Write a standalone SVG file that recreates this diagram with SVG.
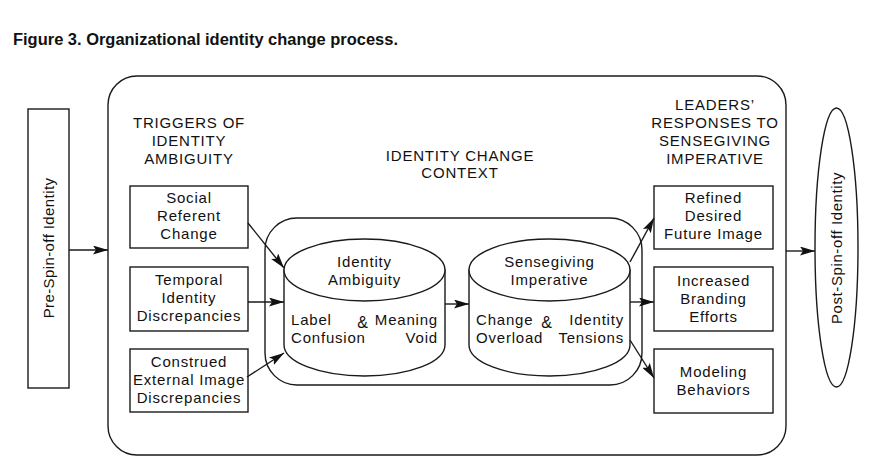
<svg xmlns="http://www.w3.org/2000/svg" width="877" height="471" viewBox="0 0 877 471">
<style>
.bx{fill:#fff;stroke:#1a1a1a;stroke-width:1.4}
.ln{fill:none;stroke:#1a1a1a;stroke-width:1.4}
.t{font-family:"Liberation Sans",Arial,sans-serif;font-size:15px;fill:#111;letter-spacing:0.8px}
.c{text-anchor:middle}
.e{text-anchor:end}
.ttl{font-family:"Liberation Sans",Arial,sans-serif;font-size:16px;font-weight:bold;fill:#111}
</style>
<defs>
<marker id="ah" markerUnits="userSpaceOnUse" markerWidth="15" markerHeight="9" refX="15" refY="4.5" orient="auto">
<path d="M0,0 L15,4.5 L0,9 L3,4.5 z" fill="#111"/>
</marker>
</defs>
<rect width="877" height="471" fill="#fff"/>
<text class="ttl" x="13" y="45" textLength="385" lengthAdjust="spacingAndGlyphs">Figure 3. Organizational identity change process.</text>

<g id="pre">
<rect class="bx" x="28" y="109" width="41" height="279"/>
<text class="t c" transform="translate(54,248) rotate(-90)" style="letter-spacing:0.4px">Pre-Spin-off Identity</text>
</g>

<g id="outer">
<rect class="ln" x="108" y="76" width="678" height="379" rx="29"/>
</g>

<g id="triggers-heading">
<text class="t c" x="189" y="128">TRIGGERS OF</text>
<text class="t c" x="189" y="146">IDENTITY</text>
<text class="t c" x="189" y="164">AMBIGUITY</text>
</g>

<g id="social">
<rect class="bx" x="130" y="186" width="118" height="62"/>
<text class="t c" x="189" y="203">Social</text>
<text class="t c" x="189" y="221">Referent</text>
<text class="t c" x="189" y="239">Change</text>
</g>
<g id="temporal">
<rect class="bx" x="130" y="267" width="118" height="64"/>
<text class="t c" x="189" y="285">Temporal</text>
<text class="t c" x="189" y="303">Identity</text>
<text class="t c" x="189" y="321">Discrepancies</text>
</g>
<g id="construed">
<rect class="bx" x="130" y="349" width="118" height="63"/>
<text class="t c" x="189" y="367">Construed</text>
<text class="t c" x="189" y="385">External Image</text>
<text class="t c" x="189" y="403">Discrepancies</text>
</g>

<g id="context-heading">
<text class="t c" x="460" y="161">IDENTITY CHANGE</text>
<text class="t c" x="460" y="178">CONTEXT</text>
</g>

<g id="context">
<rect class="ln" x="265" y="218" width="377" height="167" rx="32"/>
</g>

<g id="ambiguity">
<path class="bx" d="M284,270 V345 A80.5,31 0 0 0 445,345 V270 Z"/>
<ellipse class="bx" cx="364.5" cy="270" rx="80.5" ry="31"/>
<text class="t c" x="364.5" y="267">Identity</text>
<text class="t c" x="364.5" y="285">Ambiguity</text>
<text class="t" x="291" y="325">Label</text>
<text class="t" x="291" y="343">Confusion</text>
<text class="t c" x="363" y="328" style="font-size:16px">&amp;</text>
<text class="t e" x="438" y="325">Meaning</text>
<text class="t e" x="438" y="343">Void</text>
</g>

<g id="sensegiving">
<path class="bx" d="M469,270 V345 A80.5,31 0 0 0 630,345 V270 Z"/>
<ellipse class="bx" cx="549.5" cy="270" rx="80.5" ry="31"/>
<text class="t c" x="549.5" y="267">Sensegiving</text>
<text class="t c" x="549.5" y="285">Imperative</text>
<text class="t" x="476" y="325">Change</text>
<text class="t" x="476" y="343">Overload</text>
<text class="t c" x="547" y="328" style="font-size:16px">&amp;</text>
<text class="t e" x="624" y="325">Identity</text>
<text class="t e" x="624" y="343">Tensions</text>
</g>

<g id="leaders-heading">
<text class="t c" x="715" y="110">LEADERS’</text>
<text class="t c" x="715" y="128">RESPONSES TO</text>
<text class="t c" x="715" y="146">SENSEGIVING</text>
<text class="t c" x="715" y="164">IMPERATIVE</text>
</g>

<g id="refined">
<rect class="bx" x="654" y="186" width="119" height="63"/>
<text class="t c" x="713.5" y="203">Refined</text>
<text class="t c" x="713.5" y="221">Desired</text>
<text class="t c" x="713.5" y="239">Future Image</text>
</g>
<g id="branding">
<rect class="bx" x="654" y="267" width="119" height="64"/>
<text class="t c" x="713.5" y="286">Increased</text>
<text class="t c" x="713.5" y="304">Branding</text>
<text class="t c" x="713.5" y="322">Efforts</text>
</g>
<g id="modeling">
<rect class="bx" x="654" y="349" width="119" height="64"/>
<text class="t c" x="713.5" y="377">Modeling</text>
<text class="t c" x="713.5" y="395">Behaviors</text>
</g>

<g id="post">
<ellipse class="bx" cx="836.5" cy="247.5" rx="21.5" ry="139.5"/>
<text class="t c" transform="translate(842,248) rotate(-90)" style="letter-spacing:0.6px">Post-Spin-off Identity</text>
</g>

<g id="connectors">
<line class="ln" x1="69" y1="250" x2="108" y2="250" marker-end="url(#ah)"/>
<line class="ln" x1="248" y1="223" x2="284" y2="268" marker-end="url(#ah)"/>
<line class="ln" x1="248" y1="302" x2="284" y2="302" marker-end="url(#ah)"/>
<line class="ln" x1="247" y1="377" x2="284" y2="353" marker-end="url(#ah)"/>
<line class="ln" x1="445" y1="304" x2="469" y2="304" marker-end="url(#ah)"/>
<line class="ln" x1="630" y1="262" x2="654" y2="218" marker-end="url(#ah)"/>
<line class="ln" x1="630" y1="302" x2="654" y2="302" marker-end="url(#ah)"/>
<line class="ln" x1="630" y1="340" x2="654" y2="378" marker-end="url(#ah)"/>
<line class="ln" x1="786" y1="251" x2="815" y2="251" marker-end="url(#ah)"/>
</g>
</svg>
